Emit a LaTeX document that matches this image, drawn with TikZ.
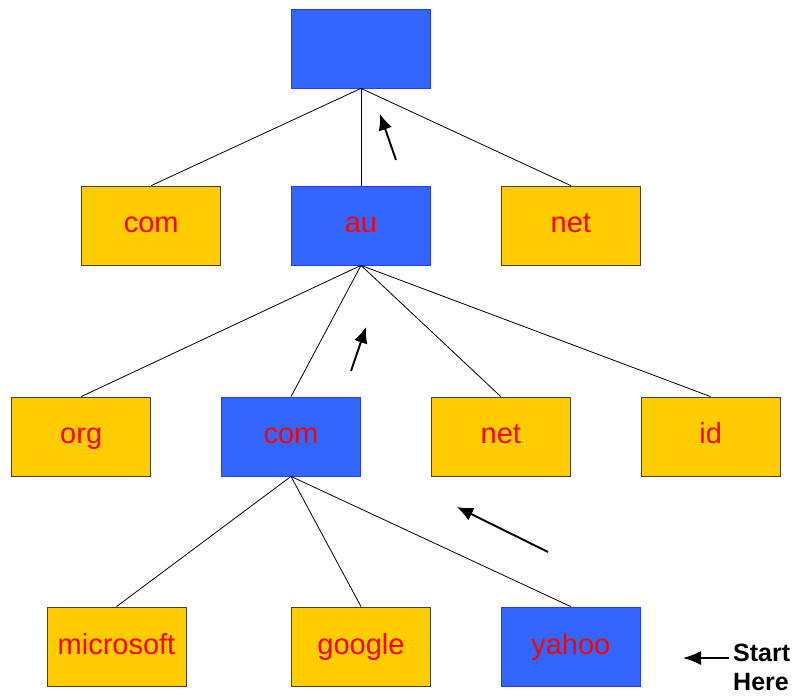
\documentclass[tikz,border=0pt]{standalone}
\usepackage{fontspec}
\setmainfont{Liberation Sans}
\usetikzlibrary{arrows.meta,positioning}

\definecolor{hostblue}{HTML}{3366FF}
\definecolor{hostedge}{HTML}{2A3BF0}
\definecolor{zoneyellow}{HTML}{FFCC00}
\definecolor{zoneedge}{HTML}{4A4030}

\begin{document}
\begin{tikzpicture}[
  x=1pt, y=-1pt,
  node distance=70pt,
  zone/.style={draw=zoneedge, fill=zoneyellow, line width=0.8pt, minimum width=139pt,
    minimum height=79pt, inner sep=0pt, text height=20pt, text depth=5pt,
    text=red, font=\fontsize{29}{31}\selectfont},
  hit/.style={zone, draw=hostedge, fill=hostblue},
  link/.style={line width=0.8pt},
  climb/.style={-{Latex[length=16pt,width=14pt]}, line width=1.9pt}
]
\useasboundingbox (0,0) rectangle (796,700);

% --- root level
\node[hit] (root) at (361,48.5) {};

% --- top level domains
\node[hit] (au) at (361,225.5) {au};
\node[zone, left=of au]  (com) {com};
\node[zone, right=of au] (net) {net};

% --- second level under au
\node[hit] (comau) at (291,436.5) {com};
\node[zone, left=of comau]  (org)   {org};
\node[zone, right=of comau] (netau) {net};
\node[zone, right=of netau] (id)    {id};

% --- hosts under com.au
\node[zone] (microsoft) at (116.5,646.5) {microsoft};
\node[zone] (google) at (361,646.5) {google};
\node[hit, right=of google] (yahoo) {yahoo};

% --- tree edges
\foreach \kid in {com,au,net} \draw[link] (root.south) -- (\kid.north);
\foreach \kid in {org,comau,netau,id} \draw[link] (au.south) -- (\kid.north);
\foreach \kid in {microsoft,google,yahoo} \draw[link] (comau.south) -- (\kid.north);

% --- lookup direction
\draw[climb] (396,160) -- (380,114);
\draw[climb] (351,371) -- (366,327);
\draw[climb] (548,552) -- (457,507);

% --- start marker
\node[anchor=north west, inner sep=0pt, align=left,
  font=\bfseries\fontsize{25}{29}\selectfont] (start) at (733,644) {Start\\Here};
\draw[climb, line width=1.5pt, -{Latex[length=18pt,width=14pt]}]
  ([shift={(-4,14)}]start.north west) -- ++(-46,0);

\end{tikzpicture}
\end{document}
